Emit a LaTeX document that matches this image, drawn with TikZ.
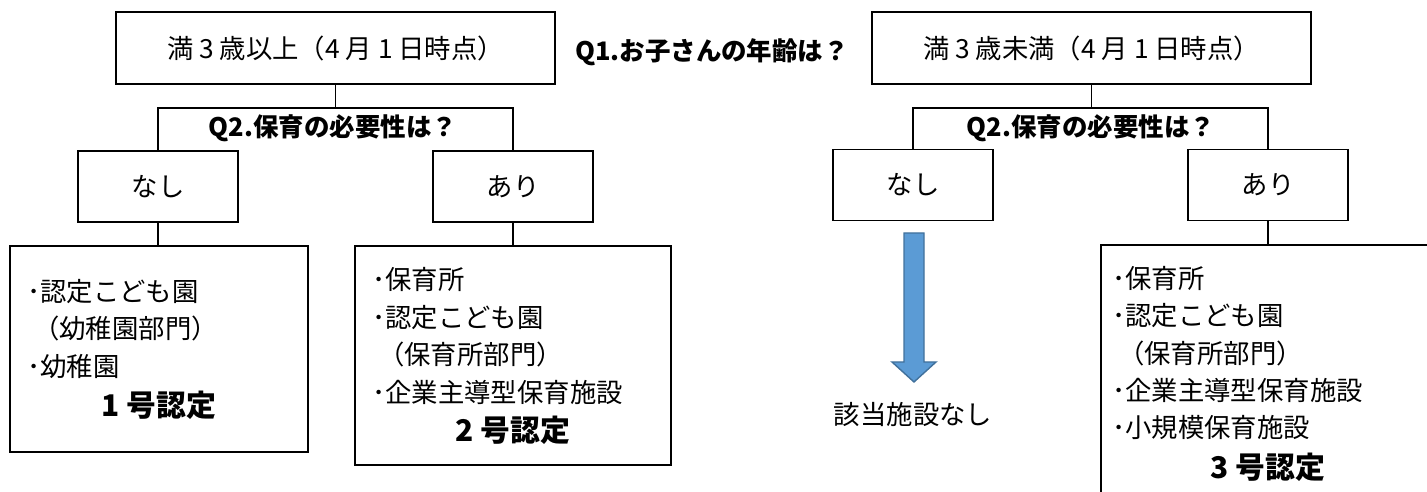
\documentclass[tikz,border=0pt]{standalone}
\usepackage{fontspec}
\setmainfont{Noto Sans CJK JP}

\definecolor{arrowblue}{HTML}{5B9BD5}
\definecolor{arrowedge}{HTML}{41719C}

\begin{document}
\begin{tikzpicture}[x=0.02cm,y=-0.02cm]
    \tikzstyle{every node}=[font=\fontsize{15}{21.3}\selectfont, inner sep=0pt]
    \tikzstyle{agebox}=[draw, line width=0.7pt, minimum width=8.78cm, minimum height=1.44cm]
    \tikzstyle{answer}=[draw, line width=0.7pt, minimum width=3.2cm, minimum height=1.42cm]
    \tikzstyle{facility}=[draw, line width=0.7pt]
    \tikzstyle{question}=[font=\fontsize{14.5}{17}\selectfont\bfseries]
    \tikzstyle{kind}=[font=\fontsize{17}{20}\selectfont\bfseries]
    \tikzstyle{link}=[line width=1pt]

    \useasboundingbox (0,0) rectangle (1427,492);
    \clip (0,0) rectangle (1427,492);

    % Q1
    \node[question] (q1) at (712,52) {Q1.お子さんの年齢は？};
    \node[agebox] (over3) at (335.5,48) {満 3 歳以上（4 月 1 日時点）};
    \node[agebox] (under3) at (1091.5,48) {満 3 歳未満（4 月 1 日時点）};

    % Q2, left side
    \coordinate (splitL) at (335.5,108);
    \node[question] (q2L) at (333,128) {Q2.保育の必要性は？};
    \node[answer] (noL) at (158,186.5) {なし};
    \node[answer] (yesL) at (513,186.5) {あり};
    \draw[link] (over3.south) -- (splitL);
    \draw[link] (noL.north) |- (splitL) -| (yesL.north);

    % Q2, right side
    \coordinate (splitR) at (1091.5,108);
    \node[question] (q2R) at (1091,128) {Q2.保育の必要性は？};
    \node[answer] (noR) at (913,185) {なし};
    \node[answer] (yesR) at (1268,185) {あり};
    \draw[link] (under3.south) -- (splitR);
    \draw[link] (noR.north) |- (splitR) -| (yesR.north);

    % facilities
    \node[facility, minimum width=5.96cm, minimum height=4.12cm] (type1) at (159,349) {};
    \node[anchor=west, align=left] (type1list) at (27,329)
        {･認定こども園\\\ （幼稚園部門）\\･幼稚園};
    \node[kind] (type1name) at (159,405) {1 号認定};
    \draw[link] (noL.south) -- (noL.south |- type1.north);

    \node[facility, minimum width=6.32cm, minimum height=4.38cm] (type2) at (513,355.5) {};
    \node[anchor=west, align=left] (type2list) at (372,336)
        {･保育所\\･認定こども園\\\ （保育所部門）\\･企業主導型保育施設};
    \node[kind] (type2name) at (513,430) {2 号認定};
    \draw[link] (yesL.south) -- (yesL.south |- type2.north);

    \node[facility, minimum width=6.72cm, minimum height=5.5cm] (type3) at (1269,382.5) {};
    \node[anchor=west, align=left] (type3list) at (1112,353)
        {･保育所\\･認定こども園\\\ （保育所部門）\\･企業主導型保育施設\\･小規模保育施設};
    \node[kind] (type3name) at (1268,467) {3 号認定};
    \draw[link] (yesR.south) -- (yesR.south |- type3.north);

    % no facility
    \draw[fill=arrowblue, draw=arrowedge, line width=0.8pt]
        (904,233) -- (924,233) -- (924,362) -- (936,362) -- (914,382)
        -- (892,362) -- (904,362) -- cycle;
    \node (nofacility) at (913,415) {該当施設なし};
\end{tikzpicture}
\end{document}
